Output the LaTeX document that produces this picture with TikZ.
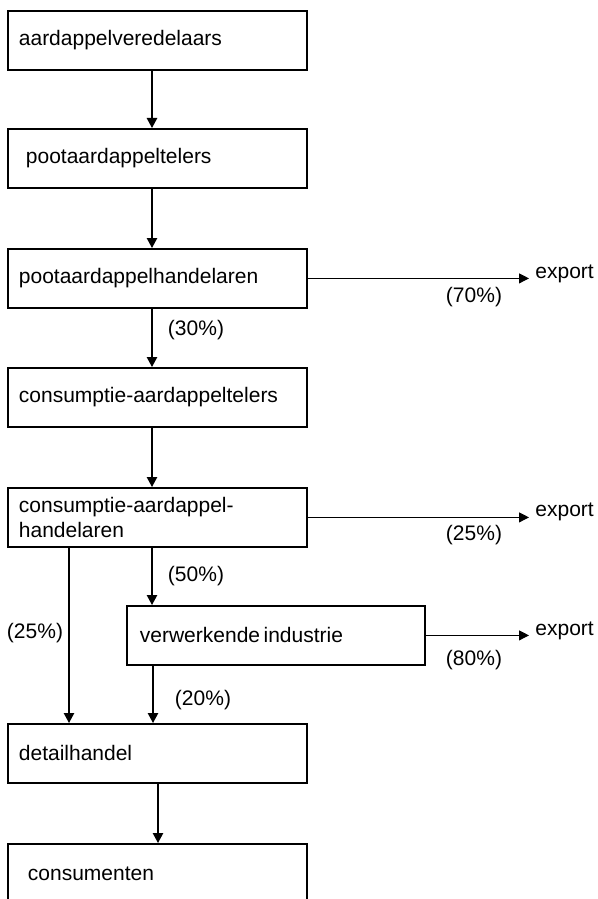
\documentclass[tikz,border=0pt]{standalone}
\usepackage{fontspec}
\setmainfont{Liberation Sans}
\usetikzlibrary{arrows.meta}
\begin{document}
\begin{tikzpicture}[x=0.5pt,y=-0.5pt,
  box/.style={draw, line width=0.9pt, anchor=north west, minimum height=29.5pt,
    inner ysep=0pt, inner xsep=5.5pt, text width=138.5pt, align=left,
    font=\fontsize{10.5}{12.5}\selectfont},
  lab/.style={inner sep=0pt, font=\fontsize{10.5}{12.5}\selectfont},
  arr/.style={line width=0.7pt, -{Triangle[length=5pt,width=5.2pt]}},
  harr/.style={line width=0.5pt, -{Triangle[length=5pt,width=5pt]}, shorten >=3pt}]
\useasboundingbox (0,0) rectangle (598,899);
% boxes
\node[box] (b1) at (7,10) {aardappelveredelaars};
\node[box, inner xsep=9pt, text width=131.5pt] (b2) at (7,128) {pootaardappeltelers};
\node[box] (b3) at (7,248) {pootaardappelhandelaren};
\node[box] (b4) at (7,367) {consumptie-aardappeltelers};
\node[box] (b5) at (7,487) {consumptie-aardappel-\\handelaren};
\node[box, inner xsep=6.5pt, text width=136pt] (b6) at (126,605) {verwerkende\,industrie};
\node[box] (b7) at (7,723) {detailhandel};
\node[box, inner xsep=10pt, text width=129.5pt] (b8) at (7,843) {consumenten};
% export labels
\node[lab, anchor=west] (e1) at (535,274) {export};
\node[lab, anchor=west] (e2) at (535,512) {export};
\node[lab, anchor=west] (e3) at (535,631) {export};
% coordinates for vertical connectors
\coordinate (xa) at (152,0);
\coordinate (xl) at (69,0);
\coordinate (xc) at (153,0);
\coordinate (xb) at (158,0);
% vertical connectors
\draw[arr] (b1.south -| xa) -- (b2.north -| xa);
\draw[arr] (b2.south -| xa) -- (b3.north -| xa);
\draw[arr] (b3.south -| xa) -- (b4.north -| xa);
\draw[arr] (b4.south -| xa) -- (b5.north -| xa);
\draw[arr] (b5.south -| xa) -- (b6.north -| xa);
\draw[arr] (b5.south -| xl) -- (b7.north -| xl);
\draw[arr] (b6.south -| xc) -- (b7.north -| xc);
\draw[arr] (b7.south -| xb) -- (b8.north -| xb);
% horizontal connectors
\draw[harr] (b3.east) -- (b3.east -| e1.west);
\draw[harr] (b5.east) -- (b5.east -| e2.west);
\draw[harr] (b6.east) -- (b6.east -| e3.west);
% percentage labels
\node[lab] (p70) at (474,297) {(70\%)};
\node[lab] (p30) at (196,330) {(30\%)};
\node[lab] (p25r) at (474,535) {(25\%)};
\node[lab] (p50) at (196,576) {(50\%)};
\node[lab] (p25l) at (35,633) {(25\%)};
\node[lab] (p80) at (474,660) {(80\%)};
\node[lab] (p20) at (203,700) {(20\%)};
\end{tikzpicture}
\end{document}
